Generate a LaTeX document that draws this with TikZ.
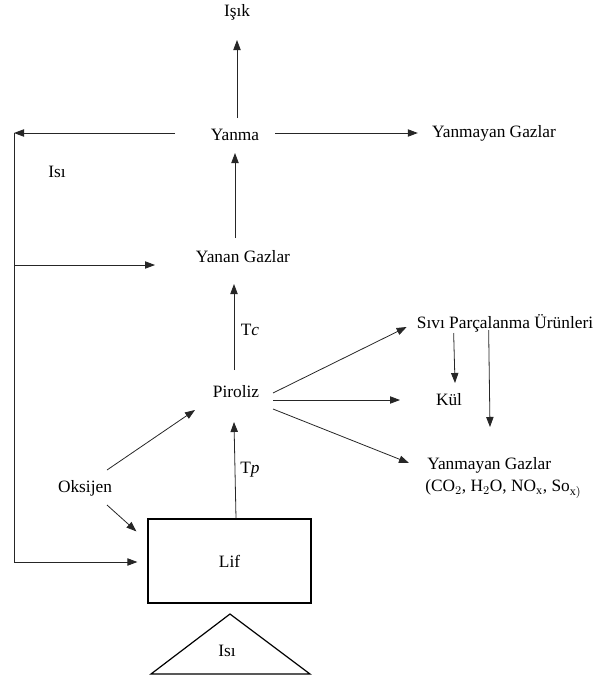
\documentclass[tikz,border=0pt]{standalone}
\usepackage{fontspec}
\setmainfont{Liberation Serif}
\usetikzlibrary{arrows.meta,calc}
\begin{document}
\begin{tikzpicture}[x=0.75pt,y=-0.75pt,
  lbl/.style={inner sep=0pt,font=\fontsize{13}{15}\selectfont},
  arr/.style={draw=black!85,line width=0.6pt,-{Triangle[length=7.5pt,width=5.5pt]}},
  ln/.style={draw=black!85,line width=0.6pt}]
\useasboundingbox (0,0) rectangle (595,682);
% nodes
\node[lbl] (isik) at (237,12) {Işık};
\node[lbl] (yanma) at (235,135) {Yanma};
\node[lbl] (ygaz1) at (494,133) {Yanmayan Gazlar};
\node[lbl] (isi1) at (57,172) {Isı};
\node[lbl] (yanan) at (243,257) {Yanan Gazlar};
\node[lbl] (tc) at (250,330) {T\textit{c}};
\node[lbl] (piroliz) at (236,392) {Piroliz};
\node[lbl] (sivi) at (505,323) {Sıvı Parçalanma Ürünleri};
\node[lbl] (kul) at (449,400) {Kül};
\node[lbl,anchor=west] (ygaz2) at (427,465) {Yanmayan Gazlar};
\node[lbl,anchor=west] (ygaz2b) at (425,489) {(CO$_2$, H$_2$O, NO$_\mathrm{x}$, So$_\mathrm{x)}$};
\node[lbl] (oksijen) at (85,488) {Oksijen};
\node[lbl] (tp) at (250,470) {T\textit{p}};
\node[lbl,draw=black,line width=0.9pt,minimum width=122.25pt,minimum height=63pt] (lif) at (229.5,561) {Lif};
\draw[line width=0.9pt] (151,674) -- (230,614) -- (310,674) -- cycle;
\node[lbl] (isi2) at (227,651) {Isı};
% corner coordinates
\coordinate (c1) at (14,133);
\coordinate (c2) at (14,265);
\coordinate (c3) at (14,562);
% connectors
\draw[arr] ($(yanma)+(2,-17)$) -- ($(isik)+(0,28)$);
\draw[arr] ($(yanma)+(-60,-2)$) -- (c1);
\draw[ln] (c1) -- (c3);
\draw[arr] (c2) -- ($(yanan)+(-88,8)$);
\draw[arr] (c3) -- ($(lif.west)+(-10,1)$);
\draw[arr] ($(yanma)+(40,-2)$) -- ($(ygaz1.west)+(-14,0)$);
\draw[arr] ($(yanan)+(-8,-19)$) -- ($(yanma)+(0,18)$);
\draw[arr] ($(piroliz)+(-2,-22)$) -- ($(yanan)+(-9,27)$);
\draw[arr] ($(piroliz)+(37,1)$) -- ($(sivi.west)+(-10,4)$);
\draw[arr] ($(piroliz)+(37,8)$) -- ($(kul)+(-49,0)$);
\draw[arr] ($(piroliz)+(37,17)$) -- ($(ygaz2.west)+(-18,-2)$);
\draw[arr] ($(sivi.west)+(37,10)$) -- ($(kul)+(6,-17)$);
\draw[arr] ($(sivi.west)+(72,7)$) -- ($(ygaz2.west)+(63,-38)$);
\draw[arr] ($(oksijen)+(22,-18)$) -- ($(piroliz)+(-41,18)$);
\draw[arr] ($(oksijen)+(22,17)$) -- ($(lif.north west)+(-11,13)$);
\draw[arr] ($(lif.north)+(6.5,0)$) -- ($(piroliz)+(-2,30)$);
\end{tikzpicture}
\end{document}
